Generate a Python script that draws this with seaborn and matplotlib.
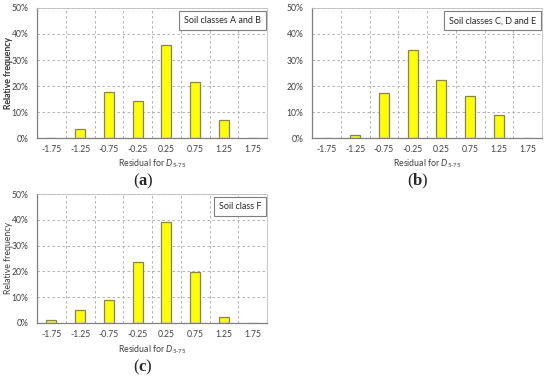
import matplotlib
matplotlib.use("Agg")
import matplotlib.pyplot as plt
import seaborn as sns
import pandas as pd
from matplotlib.ticker import PercentFormatter, FixedLocator, MultipleLocator

# bin centres of the residual histogram
bins = ["-1.75", "-1.25", "-0.75", "-0.25", "0.25", "0.75", "1.25", "1.75"]

# relative frequency (%) per bin
freq_ab = [0, 3.4, 17.8, 14.2, 35.7, 21.4, 7.0, 0]
freq_cde = [0, 1.2, 17.3, 33.8, 22.4, 16.0, 8.8, 0]
freq_f = [1.3, 5.2, 9.0, 23.5, 39.0, 19.6, 2.4, 0]

titles = ["Soil classes A and B", "Soil classes C, D and E", "Soil class F"]
panel_labels = ["a", "b", "c"]

sns.set_style("white")
plt.rcParams["font.family"] = ["Lato", "DejaVu Sans"]
plt.rcParams["mathtext.fontset"] = "custom"
plt.rcParams["mathtext.rm"] = "Lato"
plt.rcParams["mathtext.it"] = "Lato:italic"
plt.rcParams["mathtext.bf"] = "Liberation Serif:bold"

W, H = 550, 376
fig = plt.figure(figsize=(W / 100, H / 100), dpi=100)
fig.patch.set_facecolor("white")

# axes boxes in pixels: left, top, right, bottom
boxes = [(37, 8, 267, 138), (312, 8, 542, 138), (37, 194, 267, 323)]
label_pos = [(143, 181), (418, 181), (143, 367)]

for vals, title, lab, (l, t, r, b), (lx, ly) in zip(
        [freq_ab, freq_cde, freq_f], titles, panel_labels, boxes, label_pos):
    ax = fig.add_axes([l / W, 1 - b / H, (r - l) / W, (b - t) / H])
    df = pd.DataFrame({"bin": bins, "freq": vals})
    sns.barplot(data=df, x="bin", y="freq", ax=ax, color="#FFFF00",
                edgecolor="#7f7f7f", linewidth=0.9, width=0.35, saturation=1)
    ax.set_xlim(-0.5, len(bins) - 0.5)
    ax.set_ylim(0, 50)
    ax.yaxis.set_major_locator(MultipleLocator(10))
    ax.yaxis.set_minor_locator(MultipleLocator(2))
    ax.yaxis.set_major_formatter(PercentFormatter(decimals=0))
    ax.xaxis.set_minor_locator(FixedLocator([i + 0.5 for i in range(len(bins) - 1)]))
    ax.grid(True, which="major", axis="y", color="#a6a6a6", linestyle=(0, (3, 3)), linewidth=0.6)
    ax.grid(True, which="minor", axis="x", color="#a6a6a6", linestyle=(0, (3, 3)), linewidth=0.6)
    ax.set_axisbelow(True)
    ax.tick_params(axis="both", which="major", labelsize=6.2, colors="#404040", length=0, pad=6)
    ax.tick_params(axis="x", which="major", pad=5)
    ax.tick_params(axis="y", which="minor", direction="in", length=2, color="#7f7f7f", width=0.6)
    ax.tick_params(axis="x", which="minor", length=0)
    for s in ["top", "right"]:
        ax.spines[s].set_color("#bfbfbf")
        ax.spines[s].set_linewidth(0.6)
    for s in ["left", "bottom"]:
        ax.spines[s].set_color("#7f7f7f")
        ax.spines[s].set_linewidth(0.9)
    ax.set_xlabel(r"Residual for $D_{5\text{-}75}$", fontsize=6.3, color="#404040")
    ax.xaxis.set_label_coords(0.5, -20 / (b - t))
    ax.set_ylabel("Relative frequency", fontsize=6.3, color="#404040")
    ax.yaxis.set_label_coords((4 - l) / (r - l), 0.5)
    ax.yaxis.label.set_va("top")
    ax.text(0.975, 0.935, title, transform=ax.transAxes, ha="right", va="top",
            fontsize=6.5, color="#262626",
            bbox=dict(boxstyle="square,pad=0.55", facecolor="white", edgecolor="#7f7f7f", linewidth=0.8))
    fig.text(lx / W, 1 - ly / H, r"($\mathbf{" + lab + "}$)", ha="center", va="center",
             fontsize=12, family="Liberation Serif")

fig.savefig("out.png", dpi=100)
